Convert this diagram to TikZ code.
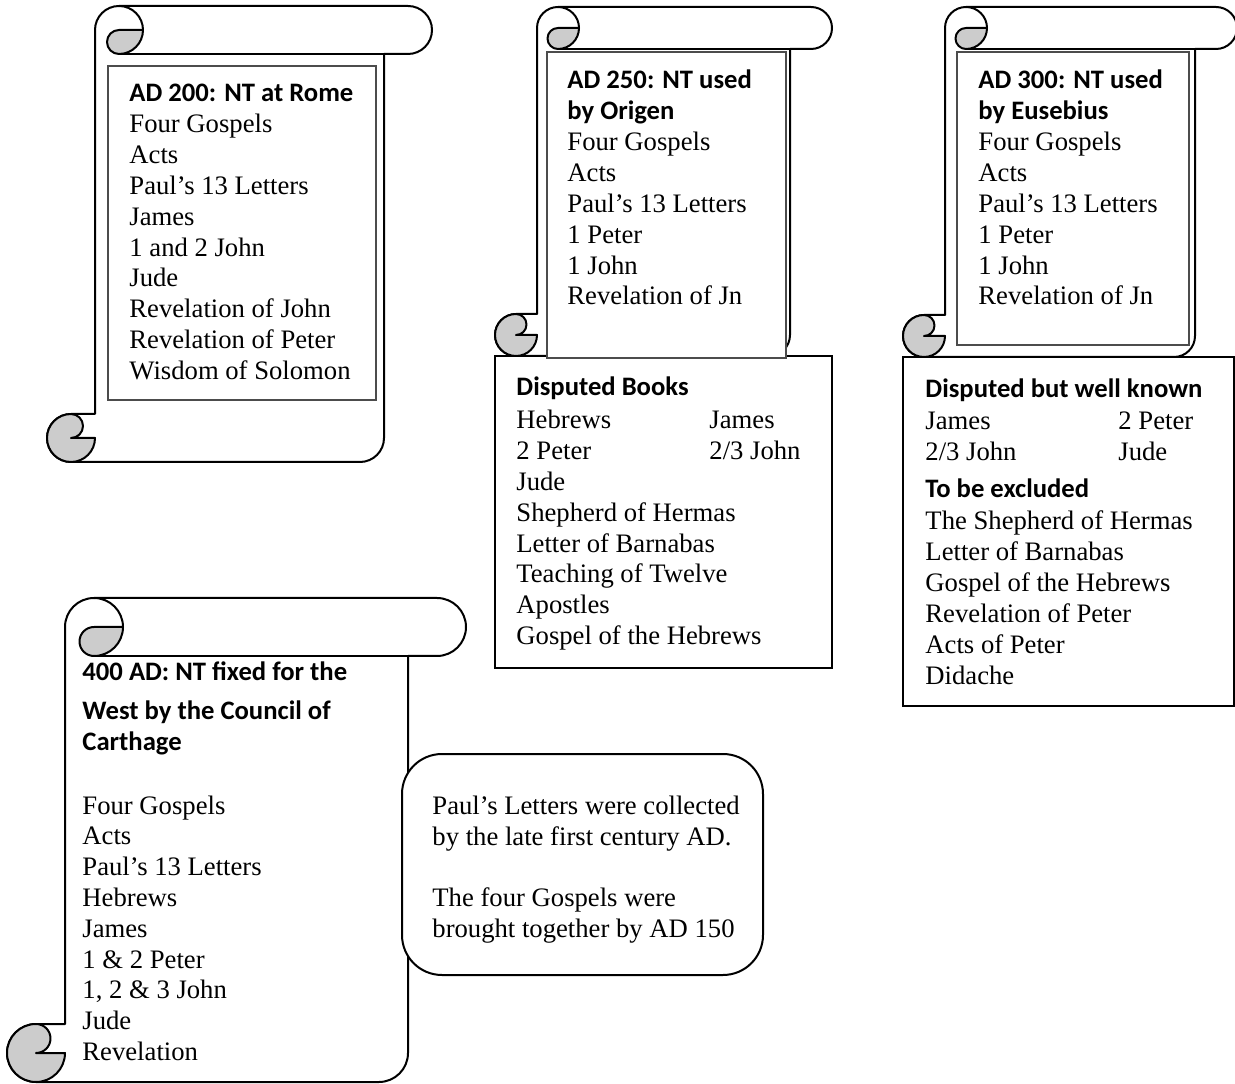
\documentclass[tikz,border=0pt]{standalone}
\usepackage{fontspec}
\setmainfont{Liberation Serif}
\newfontfamily\hdfont{Carlito}
\newcommand\drawscroll[5]{%
  \pgfmathsetmacro\scrL{#1}\pgfmathsetmacro\scrT{#2}%
  \pgfmathsetmacro\scrR{#3}\pgfmathsetmacro\scrB{#4}%
  \pgfmathsetmacro\scrC{#5}\pgfmathsetmacro\scrH{#5/2}%
  \pgfmathsetmacro\scrRh{0.45*#5/2}\pgfmathsetmacro\scrRq{0.45*#5/4}%
  \filldraw[scrollline, fill=white] (\scrL+\scrC,\scrT+\scrH)
     arc[start angle=180,end angle=90,radius=\scrRh pt] -- (\scrR-\scrH,\scrT)
     arc[start angle=90,end angle=-90,radius=\scrRh pt] -- (\scrR-\scrC,\scrT+\scrC)
     -- (\scrR-\scrC,\scrB-\scrH)
     arc[start angle=0,end angle=-90,radius=\scrRh pt] -- (\scrL+\scrH,\scrB)
     arc[start angle=-90,end angle=-270,radius=\scrRh pt] -- (\scrL+\scrC,\scrB-\scrC)
     -- cycle;
  \draw[scrollline] (\scrL+1.5*\scrC,\scrT+\scrC) -- (\scrR-\scrC,\scrT+\scrC);
  \filldraw[scrollline, curlfill] (\scrL+1.5*\scrC,\scrT+\scrH) -- (\scrL+2*\scrC,\scrT+\scrH)
     arc[start angle=0,end angle=-90,radius=\scrRh pt]
     arc[start angle=270,end angle=90,radius=\scrRq pt] -- cycle;
  \draw[scrollline] (\scrL+1.5*\scrC,\scrT) arc[start angle=90,end angle=0,radius=\scrRh pt];
  \filldraw[scrollline, curlfill] (\scrL+\scrC,\scrB-\scrH)
     arc[start angle=0,end angle=-270,radius=\scrRh pt]
     arc[start angle=90,end angle=-90,radius=\scrRq pt] -- cycle;
}
\newcommand\textlines[5]{%
  \foreach \t [count=\i] in {#5} {
    \node[txt] (#1\i) at (#2,{#3+(\i-1)*#4}) {\t};
  }%
}
\begin{document}
\begin{tikzpicture}[x=0.45pt,y=-0.45pt,
  scrollline/.style={line width=0.9pt, line join=round},
  curlfill/.style={fill=black!20},
  tbox/.style={draw=black!70, line width=0.5pt, fill=white},
  lbox/.style={draw, line width=0.8pt, fill=white},
  txt/.style={font=\fontsize{12}{14}\selectfont, anchor=base west, inner sep=0pt},
  hd/.style={font=\hdfont\bfseries\fontsize{12}{14}\selectfont, anchor=base west, inner sep=0pt}]
\useasboundingbox (0,0) rectangle (1235,1084);

% Scroll 1
\drawscroll{47}{6}{432}{462}{48}
\draw[tbox] (108,66) rectangle (376,400);
% Scroll 2
\drawscroll{495}{7}{832}{356}{42}
\draw[lbox] (495,356) rectangle (832,668);
\draw[tbox] (547,52) rectangle (786,358);
% Scroll 3
\drawscroll{903}{7}{1237}{357}{42}
\draw[lbox] (903,357) rectangle (1234,706);
\draw[tbox] (957,52) rectangle (1189,345);
% Scroll 4
\drawscroll{7}{598}{466}{1082}{58}
\draw[lbox, line width=0.9pt, rounded corners=18pt] (402,754) rectangle (763,975);

% Texts scroll 1
\node[hd] (h1) at (129,102) {AD 200: NT at Rome};
\textlines{a}{129}{133}{30.8}{Four Gospels, Acts, Paul’s 13 Letters, James, 1 and 2 John, Jude, Revelation of John, Revelation of Peter, Wisdom of Solomon}

% Texts scroll 2
\node[hd] (h2a) at (567,89) {AD 250: NT used};
\node[hd] (h2b) at (567,120) {by Origen};
\textlines{b}{567}{151}{30.8}{Four Gospels, Acts, Paul’s 13 Letters, 1 Peter, 1 John, Revelation of Jn}
\node[hd] (h2c) at (516,396) {Disputed Books};
\textlines{c}{516}{429}{30.8}{Hebrews, 2 Peter, Jude, Shepherd of Hermas, Letter of Barnabas, Teaching of Twelve, Apostles, Gospel of the Hebrews}
\textlines{d}{709}{429}{30.8}{James, 2/3 John}

% Texts scroll 3
\node[hd] (h3a) at (978,89) {AD 300: NT used};
\node[hd] (h3b) at (978,120) {by Eusebius};
\textlines{e}{978}{151}{30.8}{Four Gospels, Acts, Paul’s 13 Letters, 1 Peter, 1 John, Revelation of Jn}
\node[hd] (h3c) at (925,398) {Disputed but well known};
\textlines{f}{925}{430}{30.8}{James, 2/3 John}
\textlines{g}{1118}{430}{30.8}{2 Peter, Jude}
\node[hd] (h3d) at (925,498) {To be excluded};
\textlines{k}{925}{530}{30.8}{The Shepherd of Hermas, Letter of Barnabas, Gospel of the Hebrews, Revelation of Peter, Acts of Peter, Didache}

% Texts scroll 4
\node[hd] (h4a) at (82,681) {400 AD: NT fixed for the};
\node[hd] (h4b) at (82,720) {West by the Council of};
\node[hd] (h4c) at (82,751) {Carthage};
\textlines{m}{82}{814}{30.8}{Four Gospels, Acts, Paul’s 13 Letters, Hebrews, James, 1 \& 2 Peter, {1, 2 \& 3 John}, Jude, Revelation}

% Rounded box text
\node[txt] (r1) at (432,814) {Paul’s Letters were collected};
\node[txt] (r2) at (432,845) {by the late first century AD.};
\node[txt] (r3) at (432,906) {The four Gospels were};
\node[txt] (r4) at (432,937) {brought together by AD 150};
\end{tikzpicture}
\end{document}
